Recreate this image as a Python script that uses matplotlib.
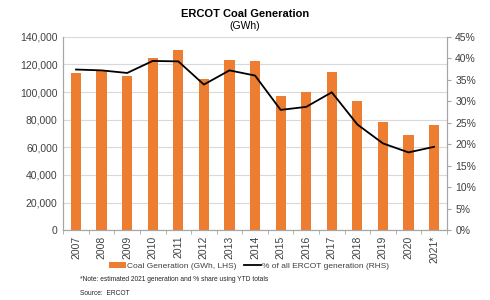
import numpy as np
import matplotlib
matplotlib.use("Agg")
import matplotlib.pyplot as plt
from matplotlib.ticker import FuncFormatter

plt.rcParams['font.family'] = ['Liberation Sans', 'DejaVu Sans']

years = ['2007', '2008', '2009', '2010', '2011', '2012', '2013', '2014',
         '2015', '2016', '2017', '2018', '2019', '2020', '2021*']
coal_gwh = [113900, 115300, 111700, 124800, 130500, 109500, 123300, 122600,
            97200, 100100, 114600, 93600, 78300, 69000, 76200]
coal_share = [37.4, 37.2, 36.6, 39.4, 39.3, 33.9, 37.2, 36.0,
              28.0, 28.7, 32.1, 24.6, 20.2, 18.1, 19.4]

fig = plt.figure(figsize=(4.9, 3.0), dpi=100)
ax = fig.add_axes([0.129, 0.233, 0.783, 0.644])
ax2 = ax.twinx()

x = np.arange(len(years))
bars = ax.bar(x, coal_gwh, width=0.4, color='#ED7D31', zorder=2,
              label='Coal Generation (GWh, LHS)')
line, = ax2.plot(x, coal_share, color='black', lw=1.3, zorder=3,
                 label='% of all ERCOT generation (RHS)')

ax.set_xlim(-0.5, len(years) - 0.5)
ax.set_ylim(0, 140000)
ax.set_yticks(np.arange(0, 140001, 20000))
ax.yaxis.set_major_formatter(FuncFormatter(lambda v, p: f"{int(v):,}"))
ax2.set_ylim(0, 45)
ax2.set_yticks(np.arange(0, 46, 5))
ax2.yaxis.set_major_formatter(FuncFormatter(lambda v, p: f"{int(v)}%"))

ax.grid(axis='y', color='#d9d9d9', lw=0.8, zorder=0)
ax.set_axisbelow(True)

ax.set_xticks(x)
ax.set_xticklabels(years, rotation=90)
ax.set_xticks(np.arange(-0.5, len(years), 1), minor=True)
ax.tick_params(axis='x', which='major', length=0, labelsize=7.5, colors='#404040', pad=4)
ax.tick_params(axis='x', which='minor', length=3, color='#a6a6a6')
ax.tick_params(axis='y', labelsize=7.5, colors='#404040', length=0, pad=4)
ax2.tick_params(axis='y', labelsize=7.5, colors='#404040', length=3, color='#a6a6a6', pad=3)

for a in (ax, ax2):
    a.spines['top'].set_visible(False)
    for s in ('left', 'right', 'bottom'):
        a.spines[s].set_color('#a6a6a6')
        a.spines[s].set_linewidth(0.8)

fig.text(0.5, 0.952, 'ERCOT Coal Generation', ha='center', va='center',
         fontsize=8, fontweight='bold')
fig.text(0.5, 0.912, '(GWh)', ha='center', va='center', fontsize=7.5)

fig.legend(handles=[bars, line], loc='center', bbox_to_anchor=(0.508, 0.112),
           ncol=2, frameon=False, fontsize=6, handlelength=2.0,
           columnspacing=1.0, handletextpad=0.1, labelcolor='#404040')
fig.text(0.163, 0.068, '*Note: estimated 2021 generation and % share using YTD totals',
         fontsize=4.8, va='center', color='#262626')
fig.text(0.163, 0.022, 'Source:  ERCOT', fontsize=4.8, va='center', color='#262626')

fig.savefig('out.png', dpi=100)
